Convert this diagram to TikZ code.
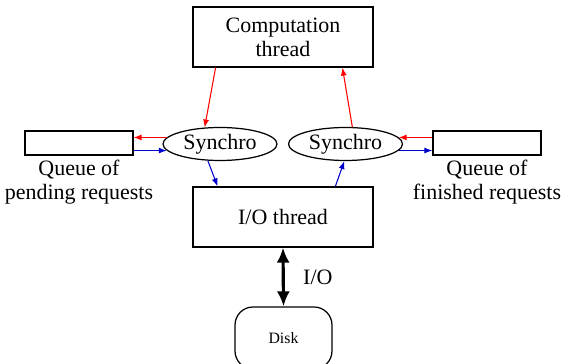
\documentclass[tikz,border=0pt]{standalone}
\usepackage{fontspec}
\setmainfont{Liberation Serif}
\definecolor{reqred}{RGB}{255, 0, 0}
\definecolor{ansblue}{RGB}{0, 0, 204}
\usetikzlibrary{shapes.geometric, arrows.meta, positioning, calc}

\begin{document}
\begin{tikzpicture}[x=0.02cm, y=0.02cm,
  thread/.style={draw, line width=0.7pt, minimum width=3.6cm, minimum height=1.2cm,
                 align=center, font=\fontsize{12.5}{13.8}\selectfont},
  queue/.style={draw, line width=0.7pt, minimum width=2.16cm, minimum height=0.48cm, inner sep=0pt},
  sync/.style={draw, ellipse, line width=0.7pt, minimum width=2.28cm, minimum height=0.66cm,
               inner sep=0pt, font=\fontsize{12.5}{13.8}\selectfont},
  qlabel/.style={align=center, font=\fontsize{12.5}{13.8}\selectfont},
  tocomp/.style={draw=reqred, line width=0.6pt, -{Latex[length=1.6mm, width=1.2mm]}},
  toio/.style={draw=ansblue, line width=0.6pt, -{Latex[length=1.6mm, width=1.2mm]}},
]
\useasboundingbox (0,0) rectangle (562,364);

% Threads
\node[thread] (comp) at (283, 327) {Computation\\thread};
\node[thread] (io) at (283, 147) {I/O thread};

% Queues and synchronisation
\node[queue] (lq) at (79, 221) {};
\node[queue] (rq) at (487, 221) {};
\node[sync] (lsync) at (220, 220) {Synchro};
\node[sync] (rsync) at (345.5, 220) {Synchro};
\node[qlabel] (lqtext) at (79, 182) {Queue of\\pending requests};
\node[qlabel] (rqtext) at (487, 182) {Queue of\\finished requests};

% Disk
\node[draw, line width=0.7pt, rounded corners=0.36cm, minimum width=1.94cm, minimum height=1.24cm,
      font=\fontsize{9}{10}\selectfont] (disk) at (283.5, 26) {Disk};

% Requests and answers
\draw[tocomp] ($(comp.south west)!0.128!(comp.south east)$) -- (lsync.133);
\draw[tocomp] (lsync.173) -- (lsync.173 -| lq.east);
\draw[toio] (lsync.187 -| lq.east) -- (lsync.187);
\draw[toio] (lsync.234) -- ($(io.north west)!0.139!(io.north east)$);
\draw[toio] ($(io.north west)!0.789!(io.north east)$) -- (rsync.266);
\draw[toio] (rsync.353) -- (rsync.353 -| rq.west);
\draw[tocomp] (rsync.7 -| rq.west) -- (rsync.7);
\draw[tocomp] (rsync.68) -- ($(comp.south west)!0.828!(comp.south east)$);

% Disk access
\draw[line width=1.8pt, {Latex[length=3mm, width=2.6mm]}-{Latex[length=3mm, width=2.6mm]}]
  (io.south) -- node[right=0.25cm, font=\fontsize{12.5}{13.8}\selectfont] (iotext) {I/O} (disk.north);
\end{tikzpicture}
\end{document}
